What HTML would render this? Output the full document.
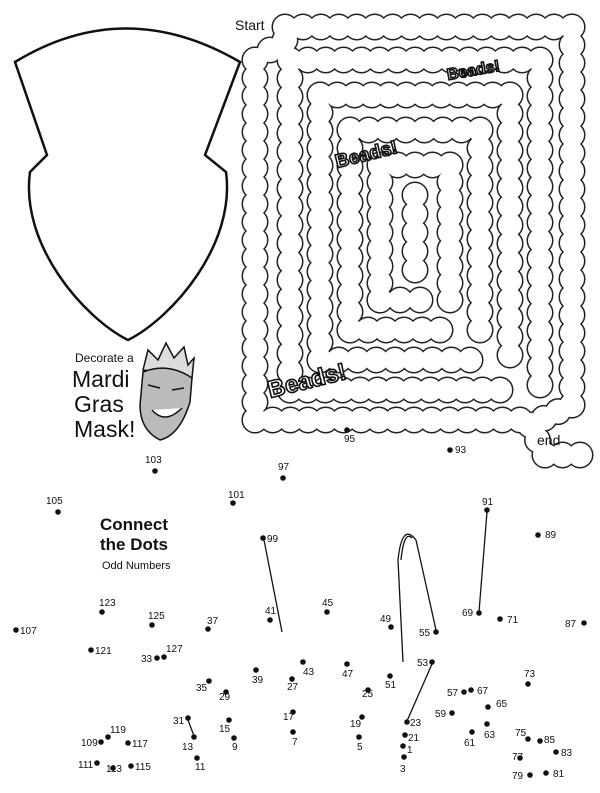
<!DOCTYPE html>
<html><head><meta charset="utf-8"><style>
html,body{margin:0;padding:0;background:#fff;}
svg{display:block;font-family:"Liberation Sans",sans-serif;}
.n{font-size:10px;fill:#111;}
</style></head><body>
<svg id="s" width="600" height="793" viewBox="0 0 600 793" xmlns="http://www.w3.org/2000/svg">
<path d="M15,62 Q125,-5 240,62 L205,155 L226,172 C236,245 172,318 128,340 C84,318 20,245 30,172 L47,155 Z" fill="#fff" stroke="#111" stroke-width="2.5"/>
<g id="mazeB" fill="#fff" stroke="#222" stroke-width="3"></g>
<g id="mazeW" fill="#fff" stroke="none"></g>
<text x="235" y="30" font-size="14" fill="#111">Start</text>
<text x="537" y="445" font-size="14" fill="#111">end</text>
<g font-weight="bold" fill="#fff" stroke="#111" stroke-width="1.6">
<text x="448" y="80" font-size="16" transform="rotate(-10 448 80)">Beads!</text>
<text x="337" y="168" font-size="19" transform="rotate(-14 337 168)">Beads!</text>
<text x="270" y="398" font-size="24" transform="rotate(-14 270 398)">Beads!</text>
</g>
<text x="75" y="362" font-size="12" fill="#111">Decorate a</text>
<text x="72" y="387" font-size="23" fill="#111">Mardi</text>
<text x="74" y="412" font-size="23" fill="#111">Gras</text>
<text x="74" y="437" font-size="23" fill="#111">Mask!</text>
<g stroke="#111" stroke-width="1.5">
<path d="M143,370 L148,350 L158,360 L166,343 L174,358 L184,347 L188,365 L194,358 L192,378 Z" fill="#ddd"/>
<path d="M143,372 Q168,362 192,378 L190,402 Q180,435 160,440 Q140,430 140,405 Z" fill="#bbb"/>
<path d="M148,385 L160,388 M172,390 L184,388" fill="none"/>
<path d="M152,410 Q165,425 182,408" fill="#fff"/>
</g>
<text x="100" y="530" font-size="17" font-weight="bold" fill="#111">Connect</text>
<text x="100" y="550" font-size="17" font-weight="bold" fill="#111">the Dots</text>
<text x="102" y="569" font-size="11" fill="#111">Odd Numbers</text>
<g stroke="#111" stroke-width="1.3" fill="none">
<line x1="264" y1="540" x2="282" y2="632"/>
<line x1="487" y1="512" x2="479" y2="612"/>
<line x1="432" y1="664" x2="407" y2="721"/>
<line x1="188" y1="720" x2="194" y2="736"/>
<path d="M403,662 L398,560 Q402,522 416,540 L436,630"/>
<path d="M401,560 Q404,530 412,538"/>
</g>
<g id="dots"></g>
</svg>
<script>
var NS="http://www.w3.org/2000/svg",mb=document.getElementById("mazeB"),mw=document.getElementById("mazeW");
function C(p,x,y){var c=document.createElementNS(NS,"circle");c.setAttribute("cx",x);c.setAttribute("cy",y);c.setAttribute("r",12);p.appendChild(c);}
function L(x1,y1,x2,y2){var d=Math.hypot(x2-x1,y2-y1),n=Math.max(1,Math.round(d/18));for(var i=0;i<=n;i++){var x=x1+(x2-x1)*i/n,y=y1+(y2-y1)*i/n;C(mb,x,y);C(mw,x,y);}}
L(285,27,572,27);L(572,27,572,405);L(572,405,530,425);L(530,425,545,455);L(545,455,580,455);
L(255,60,255,420);L(255,420,520,420);L(255,60,285,40);
L(290,60,540,60);L(540,60,540,385);L(290,60,290,390);L(290,390,500,390);
L(320,95,510,95);L(510,95,510,355);L(320,95,320,360);L(320,360,470,360);
L(350,130,480,130);L(480,130,480,330);L(350,130,350,330);L(350,330,440,330);
L(380,165,450,165);L(450,165,450,300);L(380,165,380,300);L(380,300,420,300);
L(415,195,415,270);
var D=[[155,471,103,145,463],[283,478,97,278,470],[347,430,95,344,442],[450,450,93,455,453],[58,512,105,46,504],[233,503,101,228,498],[487,510,91,482,505],[538,535,89,545,538],[263,538,99,267,542],[102,612,123,99,606],[152,625,125,148,619],[208,629,37,207,624],[270,620,41,265,614],[327,612,45,322,606],[391,627,49,380,622],[436,632,55,419,636],[479,613,69,462,616],[500,619,71,507,623],[584,623,87,565,627],[16,630,107,20,634],[91,650,121,95,654],[157,658,33,141,662],[164,657,127,166,652],[303,662,43,303,675],[347,664,47,342,677],[390,676,51,385,688],[432,662,53,417,666],[528,684,73,524,677],[209,681,35,196,691],[256,670,39,252,683],[292,679,27,287,690],[368,690,25,362,697],[464,692,57,447,696],[471,690,67,477,694],[488,707,65,496,707],[226,692,29,219,700],[452,713,59,435,717],[293,712,17,283,720],[362,717,19,350,727],[407,722,23,410,726],[229,720,15,219,732],[188,718,31,173,724],[487,724,63,484,738],[528,739,75,515,736],[540,741,85,544,743],[472,732,61,464,746],[108,737,119,110,733],[101,742,109,81,746],[128,743,117,132,747],[194,737,13,182,750],[234,738,9,232,750],[293,732,7,292,745],[359,737,5,357,750],[405,735,21,408,741],[403,746,1,407,753],[556,752,83,561,756],[97,763,111,78,768],[113,768,113,106,772],[131,766,115,135,770],[197,758,11,195,770],[404,757,3,400,772],[520,758,77,512,760],[530,775,79,512,779],[546,773,81,553,777]];
var g=document.getElementById("dots");
D.forEach(function(d){var c=document.createElementNS(NS,"circle");c.setAttribute("cx",d[0]);c.setAttribute("cy",d[1]);c.setAttribute("r",2.8);c.setAttribute("fill","#111");g.appendChild(c);var t=document.createElementNS(NS,"text");t.setAttribute("x",d[3]);t.setAttribute("y",d[4]);t.setAttribute("class","n");t.textContent=d[2];g.appendChild(t);});
</script>
</body></html>
